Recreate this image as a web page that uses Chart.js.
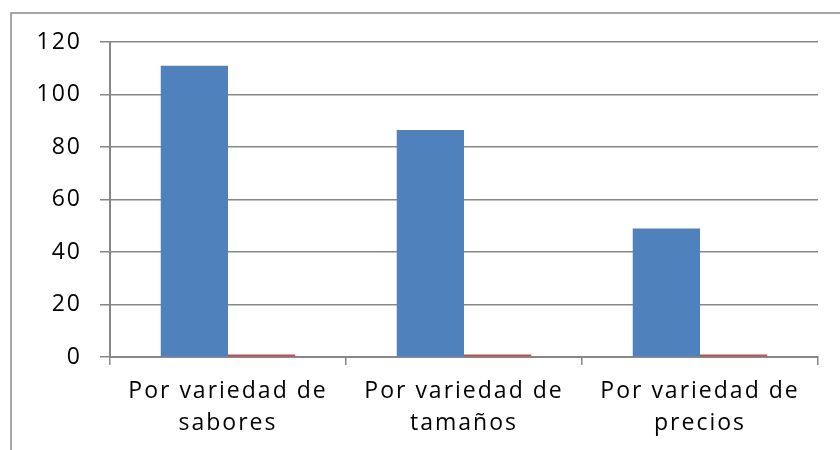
<!DOCTYPE html>
<html>
<head>
<meta charset="utf-8">
<script src="https://cdn.jsdelivr.net/npm/chart.js@4"></script>
<style>
  html, body { margin: 0; padding: 0; background: #fff; }
  #wrap { width: 840px; height: 450px; position: relative; }
</style>
</head>
<body>
<div id="wrap"><canvas id="chart"></canvas></div>
<script>
// categories and values
const categories = [
    ["Por variedad de", "sabores"],
    ["Por variedad de", "tamaños"],
    ["Por variedad de", "precios"],
];
const serie1 = [111, 86.5, 49];
const serie2 = [1, 1, 1];
const yTicks = [0, 20, 40, 60, 80, 100, 120];

const gridColor = "#878787";

// spacing out the letters like the office-style rendering
const spacing = {
    id: "spacing",
    beforeLayout(chart) { chart.ctx.letterSpacing = "2px"; },
    beforeDraw(chart) { chart.ctx.letterSpacing = "2px"; },
};

// outer chart frame (left + top edges visible)
const frame = {
    id: "frame",
    afterDraw(chart) {
        const ctx = chart.ctx;
        ctx.save();
        ctx.strokeStyle = "#8a8a8a";
        ctx.lineWidth = 1.5;
        ctx.beginPath();
        ctx.moveTo(11, 450);
        ctx.lineTo(11, 13);
        ctx.lineTo(840, 13);
        ctx.stroke();
        ctx.restore();
    },
};

new Chart(document.getElementById("chart"), {
    type: "bar",
    data: {
        labels: categories,
        datasets: [
            { label: "Serie 1", data: serie1, backgroundColor: "#4F81BD" },
            { label: "Serie 2", data: serie2, backgroundColor: "#C0504D" },
        ],
    },
    options: {
        responsive: true,
        maintainAspectRatio: false,
        animation: false,
        layout: { padding: { left: 0, right: 22, top: 42, bottom: 0 } },
        datasets: { bar: { categoryPercentage: 0.57, barPercentage: 1.0 } },
        plugins: { legend: { display: false }, tooltip: { enabled: false } },
        scales: {
            x: {
                afterFit(scale) { scale.height = 93; },
                border: { color: gridColor, width: 2 },
                grid: { offset: true, drawOnChartArea: false, drawTicks: true, tickLength: 8, color: gridColor, lineWidth: 1.5 },
                ticks: { color: "#000", padding: 10, font: { family: "Open Sans", size: 23, lineHeight: 1.39 } },
            },
            y: {
                min: 0,
                max: 120,
                afterFit(scale) { scale.width = 110; },
                afterBuildTicks(scale) { scale.ticks = yTicks.map(v => ({ value: v })); },
                border: { color: gridColor, width: 2 },
                grid: { color: gridColor, lineWidth: 1.5, tickLength: 10 },
                ticks: { color: "#000", padding: 18, font: { family: "Open Sans", size: 23 } },
            },
        },
    },
    plugins: [spacing, frame],
});
</script>
</body>
</html>
